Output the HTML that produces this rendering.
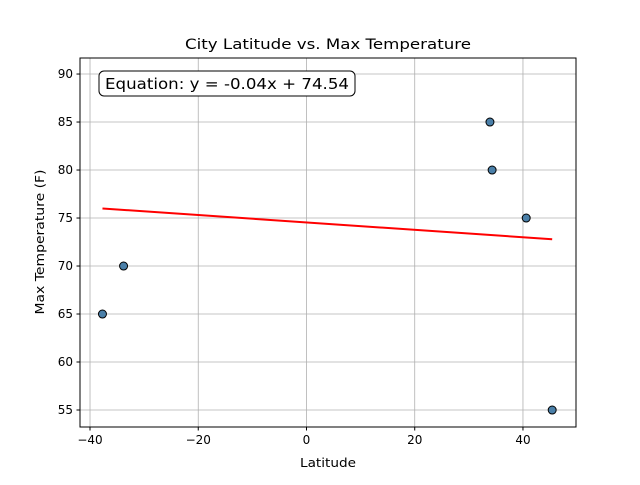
<!DOCTYPE html>
<html><head><meta charset="utf-8"><style>
body{margin:0;background:#fff;}
svg text{font-family:"DejaVu Sans","Liberation Sans",sans-serif;}
</style></head><body>
<svg id="chart" width="640" height="480" xmlns="http://www.w3.org/2000/svg">
<rect width="640" height="480" fill="#fff"/>
<g id="grid"></g>
<g id="line"></g>
<g id="points"></g>
<rect x="80" y="58" width="496" height="369" fill="none" stroke="#000" stroke-width="1"/>
<g id="axes"></g>
<text x="328" y="49" text-anchor="middle" font-size="14.5" textLength="286" lengthAdjust="spacingAndGlyphs">City Latitude vs. Max Temperature</text>
<text x="328" y="467" text-anchor="middle" font-size="12" textLength="56" lengthAdjust="spacingAndGlyphs">Latitude</text>
<text transform="translate(44,242) rotate(-90)" text-anchor="middle" font-size="12" textLength="145" lengthAdjust="spacingAndGlyphs">Max Temperature (F)</text>
<g>
<rect x="99" y="71" width="256" height="25" rx="5" fill="#fff" stroke="#000" stroke-width="1"/>
<text x="105" y="89" font-size="15" textLength="244" lengthAdjust="spacingAndGlyphs">Equation: y = -0.04x + 74.54</text>
</g>
</svg>
<script>
const latitudes=[-37.7,-33.8,33.9,34.3,40.6,45.4];
const temps=[65,70,85,80,75,55];
const xTicks=[-40,-20,0,20,40];
const yTicks=[55,60,65,70,75,80,85,90];
const slope=[-0.0385];
const intercept=[74.54];
const NS="http://www.w3.org/2000/svg";
const xMin=-41.85,xMax=49.8,yMin=53.23,yMax=91.67;
const L=80,R=576,T=58,B=427;
const sx=v=>L+(v-xMin)/(xMax-xMin)*(R-L);
const sy=v=>B-(v-yMin)/(yMax-yMin)*(B-T);
function mk(t,a,p){const e=document.createElementNS(NS,t);for(const k in a)e.setAttribute(k,a[k]);p.appendChild(e);return e;}
const grid=document.getElementById('grid'),axes=document.getElementById('axes');
xTicks.forEach(v=>{const x=sx(v);
 const g=mk('line',{x1:x,x2:x,y1:T,y2:B,stroke:'#b0b0b0','stroke-width':0.8},grid);
 
 
 mk('line',{x1:x,x2:x,y1:B,y2:B+3.5,stroke:'#000'},axes);
 const t=mk('text',{x:x,y:B+17,'text-anchor':'middle','font-size':12},axes);
 t.textContent=(v<0?'\u2212'+(-v):v);
 
 
});
yTicks.forEach(v=>{const y=sy(v);
 const g=mk('line',{x1:L,x2:R,y1:y,y2:y,stroke:'#b0b0b0','stroke-width':0.8},grid);
 
 
 mk('line',{x1:L-3.5,x2:L,y1:y,y2:y,stroke:'#000'},axes);
 const t=mk('text',{x:L-7,y:y+4,'text-anchor':'end','font-size':12},axes);
 t.textContent=v;
 
 
});
const lx0=Math.min(...latitudes),lx1=Math.max(...latitudes);
const rl=mk('line',{x1:sx(lx0),y1:sy(slope[0]*lx0+intercept[0]),x2:sx(lx1),y2:sy(slope[0]*lx1+intercept[0]),stroke:'#ff0000','stroke-width':2},document.getElementById('line'));


const pts=document.getElementById('points');
latitudes.forEach((v,i)=>{
 const c=mk('circle',{cx:sx(v),cy:sy(temps[i]),r:4,fill:'#4a7fa8',stroke:'#000','stroke-width':1},pts);
 
 
});
</script>
</body></html>
